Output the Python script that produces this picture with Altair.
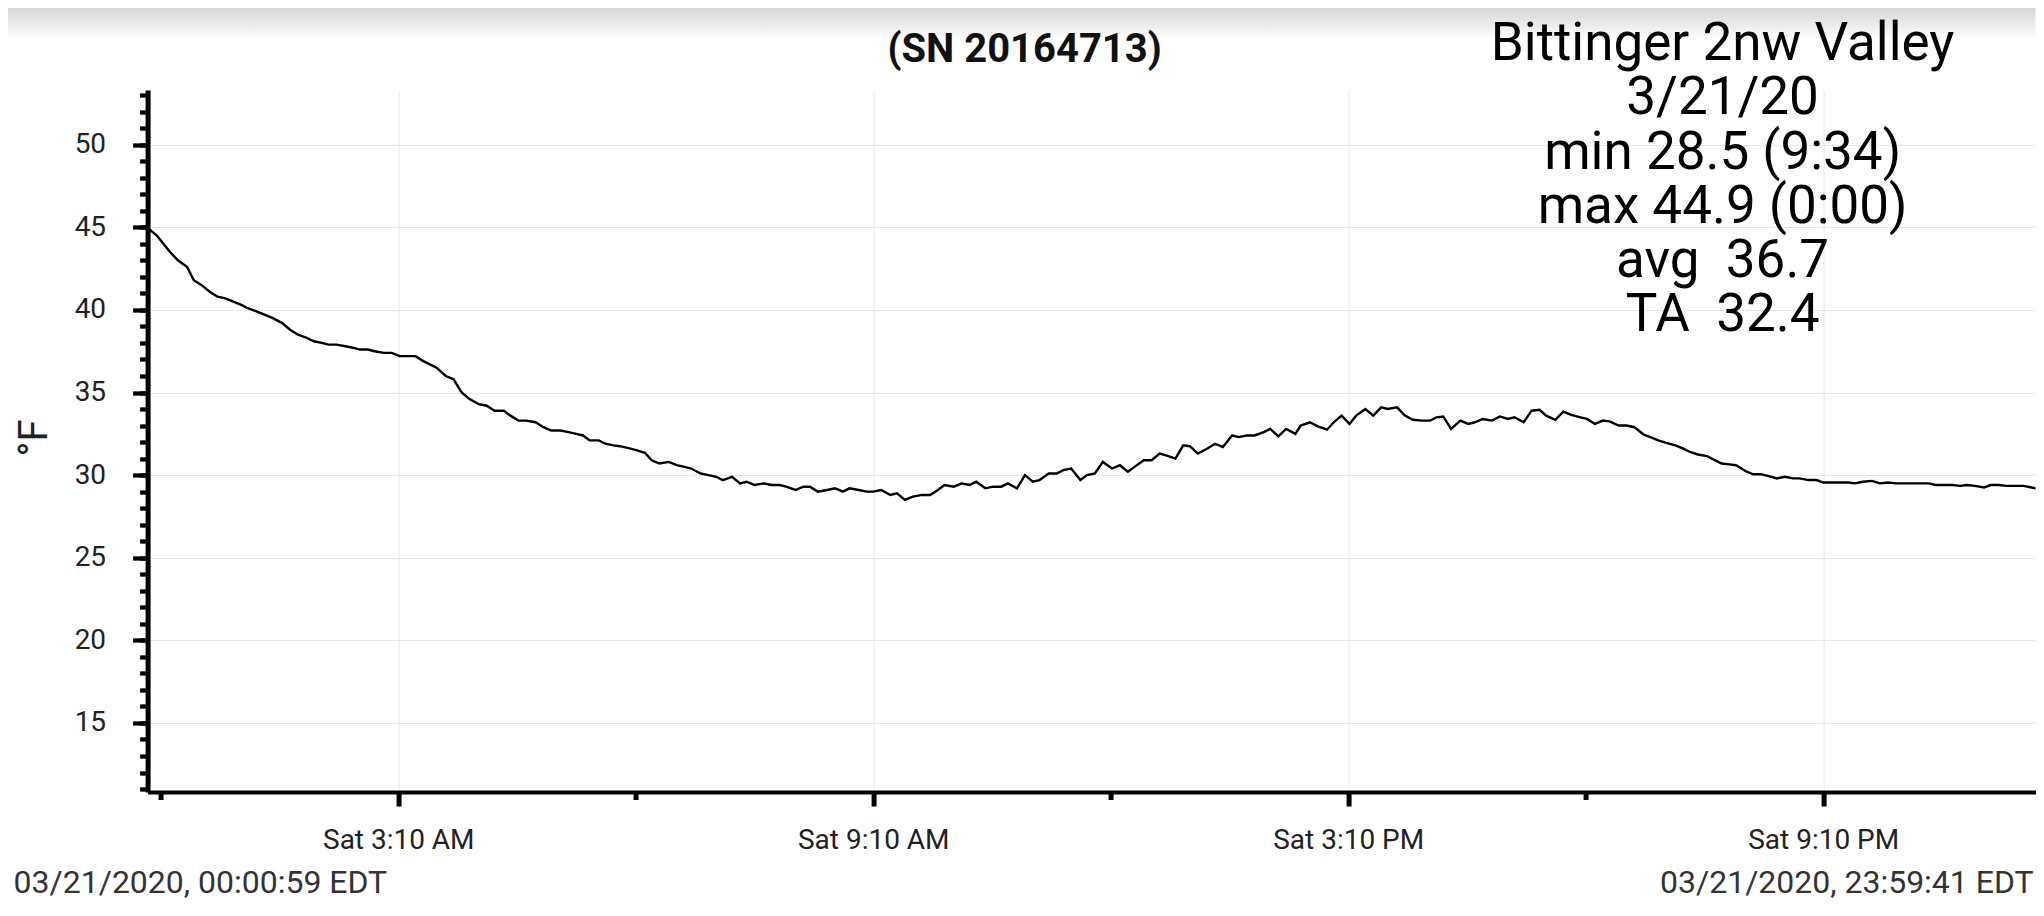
import altair as alt
import pandas as pd

# ---- data (minutes after midnight, deg F) ----
minutes_night = [1, 7, 17, 23, 30, 35, 41, 47, 53, 59, 65, 71, 76, 83, 89, 95, 102, 108, 114, 121,
                 126, 132, 137, 143, 150, 156, 161, 167, 172, 179, 185, 191, 196, 203, 209, 214, 219,
                 226, 232, 238, 244, 251, 257, 263, 270, 275, 281, 287, 294, 300, 306, 313, 319, 325,
                 330, 335, 342, 347, 353]
temps_night = [44.9, 44.5, 43.5, 43.0, 42.6, 41.8, 41.5, 41.1, 40.8, 40.7, 40.5, 40.3, 40.1, 39.9,
               39.7, 39.5, 39.2, 38.8, 38.5, 38.3, 38.1, 38.0, 37.9, 37.9, 37.8, 37.7, 37.6, 37.6,
               37.5, 37.4, 37.4, 37.2, 37.2, 37.2, 36.9, 36.7, 36.5, 36.0, 35.8, 35.0, 34.6, 34.3,
               34.2, 33.9, 33.9, 33.6, 33.3, 33.3, 33.2, 32.9, 32.7, 32.7, 32.6, 32.5, 32.4, 32.1,
               32.1, 31.9, 31.8]

minutes_morning = [358, 366, 371, 377, 382, 388, 395, 401, 407, 412, 419, 425, 431, 436, 443, 449,
                   454, 460, 467, 473, 479, 484, 491, 497, 502, 508, 515, 521, 527, 532, 539, 545,
                   550, 556, 563, 568, 574, 580, 587, 593, 599, 604, 611, 617, 623, 628, 635, 641,
                   647, 652, 659, 665, 671, 676, 683, 689, 694, 700, 707]
temps_morning = [31.75, 31.6, 31.5, 31.35, 30.9, 30.7, 30.8, 30.6, 30.5, 30.4, 30.1, 30.0, 29.9,
                 29.7, 29.9, 29.5, 29.6, 29.4, 29.5, 29.4, 29.4, 29.3, 29.1, 29.3, 29.3, 29.0, 29.1,
                 29.2, 29.0, 29.2, 29.1, 29.0, 29.0, 29.1, 28.8, 28.9, 28.5, 28.7, 28.8, 28.8, 29.1,
                 29.4, 29.3, 29.5, 29.4, 29.6, 29.2, 29.3, 29.3, 29.5, 29.2, 30.0, 29.6, 29.7, 30.1,
                 30.1, 30.3, 30.4, 29.7]

minutes_afternoon = [712, 718, 724, 731, 737, 743, 748, 755, 761, 767, 772, 779, 785, 790, 796, 803,
                     809, 815, 822, 827, 833, 839, 846, 851, 857, 863, 870, 874, 881, 887, 894, 899,
                     905, 911, 916, 923, 929, 935, 940, 947, 953, 959, 966, 972, 977, 982, 988, 995,
                     1001, 1006, 1012, 1019, 1025, 1031, 1036, 1043, 1049, 1055, 1060, 1067]
temps_afternoon = [30.0, 30.1, 30.8, 30.4, 30.6, 30.2, 30.5, 30.9, 30.9, 31.3, 31.2, 31.0, 31.8,
                   31.75, 31.3, 31.6, 31.9, 31.7, 32.4, 32.3, 32.4, 32.4, 32.6, 32.8, 32.35, 32.8,
                   32.5, 33.0, 33.2, 32.95, 32.75, 33.2, 33.6, 33.1, 33.6, 34.0, 33.6, 34.1, 34.0,
                   34.1, 33.6, 33.35, 33.3, 33.3, 33.5, 33.55, 32.8, 33.3, 33.1, 33.2, 33.4, 33.3,
                   33.55, 33.4, 33.5, 33.2, 33.9, 33.95, 33.6, 33.35]

minutes_evening = [1073, 1079, 1086, 1091, 1097, 1103, 1108, 1115, 1121, 1127, 1134, 1139, 1145,
                   1151, 1158, 1164, 1169, 1175, 1182, 1188, 1193, 1199, 1204, 1211, 1217, 1223,
                   1228, 1235, 1241, 1247, 1252, 1259, 1265, 1270, 1276, 1283, 1289, 1294, 1300,
                   1307, 1313, 1319, 1325, 1331, 1337, 1343, 1350, 1355, 1361, 1368, 1374, 1379,
                   1385, 1392, 1397, 1403, 1409, 1416, 1422, 1428, 1433, 1440]
temps_evening = [33.84, 33.65, 33.5, 33.4, 33.1, 33.3, 33.25, 33.0, 33.0, 32.9, 32.45, 32.3, 32.1,
                 31.95, 31.8, 31.6, 31.4, 31.25, 31.15, 30.9, 30.7, 30.65, 30.6, 30.25, 30.05, 30.05,
                 29.95, 29.8, 29.9, 29.8, 29.8, 29.7, 29.7, 29.55, 29.55, 29.55, 29.55, 29.5, 29.6,
                 29.65, 29.5, 29.55, 29.5, 29.5, 29.5, 29.5, 29.5, 29.4, 29.4, 29.4, 29.35, 29.4,
                 29.35, 29.25, 29.4, 29.4, 29.35, 29.35, 29.35, 29.25, 29.15, 29.15]

x_major_ticks = [190, 550, 910, 1270]
x_major_labels = ["Sat 3:10 AM", "Sat 9:10 AM", "Sat 3:10 PM", "Sat 9:10 PM"]
x_minor_ticks = [10, 370, 730, 1090]
y_major_ticks = [15, 20, 25, 30, 35, 40, 45, 50]
y_minor_ticks = list(range(11, 54))

title_text = "(SN 20164713)"
info_lines = ["Bittinger 2nw Valley", "3/21/20", "min 28.5 (9:34)", "max 44.9 (0:00)",
              "avg\u00a0 36.7", "TA\u00a0 32.4"]
start_text = "03/21/2020, 00:00:59 EDT"
end_text = "03/21/2020, 23:59:41 EDT"

df = pd.DataFrame({
    "minute": minutes_night + minutes_morning + minutes_afternoon + minutes_evening,
    "temp": temps_night + temps_morning + temps_afternoon + temps_evening,
})

FONT = "Roboto"
W, H = 1888, 702
xscale = alt.Scale(domain=[0, 1431], nice=False, zero=False)
yscale = alt.Scale(domain=[10.82, 53.31], nice=False, zero=False)

label_expr = " : ".join(
    f"datum.value == {v} ? '{t}'" for v, t in zip(x_major_ticks, x_major_labels)
) + " : ''"

x_major_axis = alt.Axis(orient="bottom", values=x_major_ticks, labelExpr=label_expr, title=None,
                        grid=True, gridColor="#e6e6e6", gridWidth=1,
                        domain=True, domainColor="black", domainWidth=4,
                        ticks=True, tickColor="black", tickSize=14, tickWidth=5,
                        labelFont=FONT, labelFontSize=28, labelColor="#222222",
                        labelPadding=21, labelFlush=False, labelOverlap=False)
x_minor_axis = alt.Axis(orient="bottom", values=x_minor_ticks, labels=False, title=None,
                        grid=False, domain=False, ticks=True, tickColor="black",
                        tickSize=7.5, tickWidth=5)
y_major_axis = alt.Axis(orient="left", values=y_major_ticks, format="d", title=None,
                        grid=True, gridColor="#e6e6e6", gridWidth=1,
                        domain=True, domainColor="black", domainWidth=5,
                        ticks=True, tickColor="black", tickSize=15, tickWidth=4.3,
                        labelFont=FONT, labelFontSize=28, labelColor="#222222",
                        labelPadding=27, labelOverlap=False)
y_minor_axis = alt.Axis(orient="left", values=y_minor_ticks, labels=False, title=None,
                        grid=False, domain=False, ticks=True, tickColor="black",
                        tickSize=8, tickWidth=4.3)

base = alt.Chart(df)

minor = base.mark_line(opacity=0).encode(
    x=alt.X("minute:Q", scale=xscale, axis=x_minor_axis),
    y=alt.Y("temp:Q", scale=yscale, axis=y_minor_axis),
)

line = base.mark_line(color="black", strokeWidth=2.4, clip=True).encode(
    x=alt.X("minute:Q", scale=xscale, axis=x_major_axis),
    y=alt.Y("temp:Q", scale=yscale, axis=y_major_axis),
)

top_shade = alt.Chart().mark_rect(
    color=alt.LinearGradient(
        gradient="linear", x1=0, y1=0, x2=0, y2=1,
        stops=[alt.GradientStop(color="#d6d6d6", offset=0),
               alt.GradientStop(color="#ffffff", offset=1)],
    )
).encode(x=alt.value(-140), x2=alt.value(W), y=alt.value(-82), y2=alt.value(-50))

title = alt.Chart().mark_text(font=FONT, fontSize=40, fontWeight="bold", color="#111111",
                              align="center", baseline="alphabetic").encode(
    x=alt.value(877), y=alt.value(-28), text=alt.value(title_text))

info = alt.Chart().mark_text(font=FONT, fontSize=53, color="#000000", align="center",
                             baseline="alphabetic", lineHeight=54.3).encode(
    x=alt.value(1575), y=alt.value(-30), text=alt.value(info_lines))

ytitle = alt.Chart().mark_text(font=FONT, fontSize=40, color="#222222", align="center",
                               baseline="middle", angle=270).encode(
    x=alt.value(-113), y=alt.value(348), text=alt.value("°F"))

start_lbl = alt.Chart().mark_text(font=FONT, fontSize=32, color="#333333", align="left",
                                  baseline="alphabetic").encode(
    x=alt.value(-134), y=alt.value(803), text=alt.value(start_text))

end_lbl = alt.Chart().mark_text(font=FONT, fontSize=32, color="#333333", align="right",
                                baseline="alphabetic").encode(
    x=alt.value(1886), y=alt.value(803), text=alt.value(end_text))

chart = alt.layer(
    top_shade, minor, line, title, info, ytitle, start_lbl, end_lbl
).resolve_axis(x="independent", y="independent").properties(
    width=W, height=H,
    padding={"left": 139.6, "top": 82, "right": 0, "bottom": 110},
    autosize=alt.AutoSizeParams(type="none"),
    background="white",
).configure_view(stroke=None)

chart.save("out.html", embed_options={"renderer": "svg", "actions": False})
